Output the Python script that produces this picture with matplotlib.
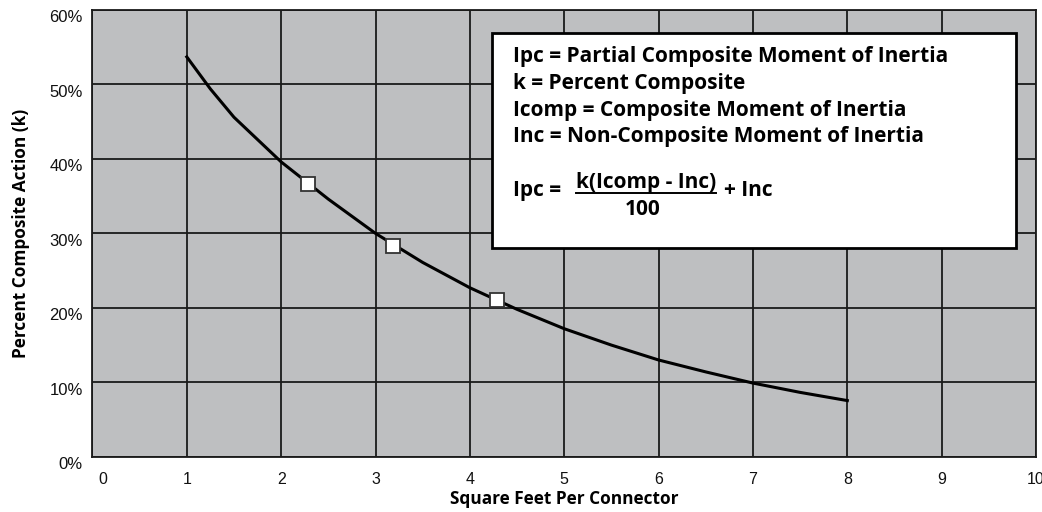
import matplotlib
matplotlib.use("Agg")
import matplotlib.pyplot as plt
import matplotlib.transforms as mtransforms
from matplotlib.patches import Rectangle
import numpy as np

# curve (square feet per connector vs percent composite)
sqft = [1, 1.25, 1.5, 2, 2.5, 3, 3.5, 4, 4.5, 5, 5.5, 6, 6.5, 7, 7.5, 8]
pct = [53.7, 49.4, 45.6, 39.6, 34.6, 30.0, 26.1, 22.7, 19.8, 17.2, 15.0, 13.0, 11.4, 9.9, 8.65, 7.55]

# marked points
mark_sqft = [2.28, 3.18, 4.29]
mark_pct = [36.6, 28.3, 21.05]

xticks = [0, 1, 2, 3, 4, 5, 6, 7, 8, 9, 10]
yticks = [0, 10, 20, 30, 40, 50, 60]
ylabels = ["0%", "10%", "20%", "30%", "40%", "50%", "60%"]

legend_lines = ["Ipc = Partial Composite Moment of Inertia",
                "k = Percent Composite",
                "Icomp = Composite Moment of Inertia",
                "Inc = Non-Composite Moment of Inertia"]

bold_font = "Open Sans"
tick_font = "Liberation Sans"
box_fs = 15

fig = plt.figure(figsize=(10.42, 5.12), dpi=100)
ax = fig.add_axes([0.0887, 0.1078, 0.9056, 0.8727])
ax.set_facecolor("#bebfc1")

ax.set_xlim(0, 10)
ax.set_ylim(0, 60)
ax.set_xticks(xticks)
ax.set_yticks(yticks)
ax.set_yticklabels(ylabels)
ax.grid(True, color="#1a1a1a", linewidth=1.3, zorder=1)
ax.set_axisbelow(True)
ax.tick_params(length=0, labelcolor="#111111")
ax.tick_params(axis="x", pad=11, labelsize=11.5)
ax.tick_params(axis="y", pad=7, labelsize=12)
for lab in ax.get_xticklabels() + ax.get_yticklabels():
    lab.set_fontfamily(tick_font)

# y labels sit a little below their gridline, the "0" is pushed right
dy = mtransforms.ScaledTranslation(0, -0.065, fig.dpi_scale_trans)
for lab in ax.get_yticklabels():
    lab.set_transform(lab.get_transform() + dy)
dx = mtransforms.ScaledTranslation(0.10, 0, fig.dpi_scale_trans)
x0lab = ax.get_xticklabels()[0]
x0lab.set_transform(x0lab.get_transform() + dx)

for s in ax.spines.values():
    s.set_color("#1a1a1a")
    s.set_linewidth(1.3)

ax.plot(sqft, pct, color="black", linewidth=2.2, zorder=3)
ax.plot(mark_sqft, mark_pct, linestyle="none", marker="s", markersize=9.5,
        markerfacecolor="white", markeredgecolor="#333333", markeredgewidth=1.3, zorder=4)

ax.set_xlabel("Square Feet Per Connector", fontsize=12.4, fontweight="bold",
              fontfamily=bold_font, labelpad=2)
ax.set_ylabel("Percent Composite Action (k)", fontsize=12.4, fontweight="bold",
              fontfamily=bold_font, labelpad=14)

# legend box
ax.add_patch(Rectangle((0.4235, 0.4673), 0.9788 - 0.4235, 0.9485 - 0.4673,
                       transform=ax.transAxes, facecolor="white",
                       edgecolor="black", linewidth=2, zorder=5))
ys = [0.8955, 0.836, 0.776, 0.7164]
for yy, txt in zip(ys, legend_lines):
    ax.text(0.4457, yy, txt, transform=ax.transAxes, fontsize=box_fs,
            fontweight="bold", fontfamily=bold_font, va="center", ha="left", zorder=6)

ax.text(0.4457, 0.5971, "Ipc =", transform=ax.transAxes, fontsize=box_fs,
        fontweight="bold", fontfamily=bold_font, va="center", ha="left", zorder=6)
ax.text(0.5864, 0.6128, "k(Icomp - Inc)", transform=ax.transAxes, fontsize=box_fs,
        fontweight="bold", fontfamily=bold_font, va="center", ha="center", zorder=6)
ax.plot([0.5122, 0.6606], [0.591, 0.591], transform=ax.transAxes,
        color="black", linewidth=1.4, zorder=6)
ax.text(0.583, 0.5524, "100", transform=ax.transAxes, fontsize=box_fs,
        fontweight="bold", fontfamily=bold_font, va="center", ha="center", zorder=6)
ax.text(0.6694, 0.5971, "+ Inc", transform=ax.transAxes, fontsize=box_fs,
        fontweight="bold", fontfamily=bold_font, va="center", ha="left", zorder=6)

fig.savefig("out.png", dpi=100, facecolor="white")
